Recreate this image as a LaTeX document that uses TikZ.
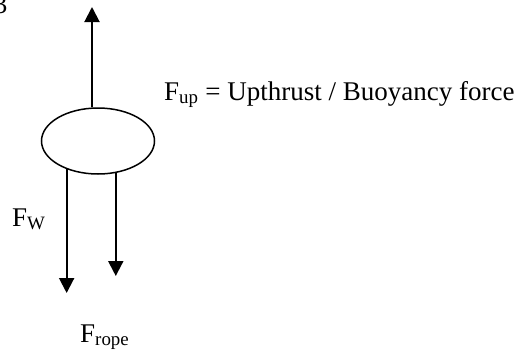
\documentclass[tikz,border=0pt]{standalone}
\usepackage{fontspec}
\setmainfont{Liberation Serif}
\usetikzlibrary{arrows.meta,shapes.geometric}

\begin{document}
\begin{tikzpicture}[x=1pt,y=-1pt,
  font=\fontsize{27}{32}\selectfont,
  force/.style={-{Triangle[length=15pt,width=15pt]},line width=2pt},
  lab/.style={inner sep=0pt,anchor=base west}]
\path[use as bounding box] (0,0) rectangle (517,349);
\fill[white] (0,0) rectangle (517,349);
\node[lab,anchor=base east] (fig) at (7.5,13) {3};
\node[ellipse,draw,line width=1.5pt,minimum width=113pt,minimum height=66pt,inner sep=0pt] (body) at (98,141) {};
% tips of the three forces
\coordinate (upT) at (92,7);
\coordinate (wT) at (67,293);
\coordinate (ropeT) at (117,276);
\draw[force] (body.north -| upT) -- (upT);
\draw[force] (body.222) -- (body.222 |- wT);
\draw[force] (body.299) -- (body.299 |- ropeT);
\node[lab] (fup) at (164,100) {F\textsubscript{up} = Upthrust / Buoyancy force};
\node[lab] (fw) at (12,226) {F\textsubscript{W}};
\node[lab] (frope) at (80,342) {F\textsubscript{rope}};
\end{tikzpicture}
\end{document}
